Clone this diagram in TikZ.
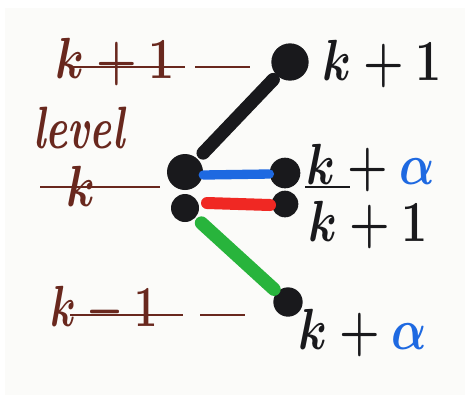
\documentclass[tikz,border=0pt]{standalone}
\usepackage{tikz}
\usepackage{graphicx}
\definecolor{inkbrown}{RGB}{105,40,30}
\definecolor{inkblack}{RGB}{25,25,28}
\definecolor{inkblue}{RGB}{30,105,225}
\definecolor{inkred}{RGB}{240,40,35}
\definecolor{inkgreen}{RGB}{40,180,60}
\definecolor{paper}{RGB}{251,251,249}
\newcommand{\hand}[1]{\scalebox{1.4}[1.75]{#1}}
\begin{document}
\begin{tikzpicture}[x=0.75pt,y=-0.75pt,
  dot/.style={circle,fill=inkblack,inner sep=0pt,minimum size=#1},
  lvl/.style={text=inkbrown,font=\fontsize{24.88}{26}\selectfont\boldmath,inner sep=0pt,anchor=base west},
  lab/.style={text=inkblack,font=\fontsize{24.88}{26}\selectfont\boldmath,inner sep=0pt,anchor=base west},
  levelline/.style={draw=inkbrown,line width=1.6pt},
  bond/.style={line width=#1,line cap=round}]
\useasboundingbox (0,0) rectangle (470,401);
\fill[white] (0,0) rectangle (470,401);
\fill[paper] (5,8) rectangle (465,395);
% levels (left)
\node[lvl] (lkp) at (55,78) {\hand{$k+1$}};
\node[lvl,font=\fontsize{40}{40}\selectfont\bfseries\itshape] (lev) at (33,148) {\scalebox{0.78}[1.12]{level}};
\node[lvl] (lk) at (66,206) {\hand{$k$}};
\node[lvl] (lkm) at (50,326) {\scalebox{1.25}[1.75]{$k-1$}};
\coordinate (a1) at (70,67); \coordinate (a2) at (185,67);
\coordinate (a3) at (195,67); \coordinate (a4) at (250,67);
\draw[levelline] (a1) -- (a2); \draw[levelline] (a3) -- (a4);
\coordinate (b1) at (40,187); \coordinate (b2) at (160,187);
\draw[levelline] (b1) -- (b2);
\coordinate (c1) at (70,315); \coordinate (c2) at (183,315);
\coordinate (c3) at (200,315); \coordinate (c4) at (245,315);
\draw[levelline] (c1) -- (c2); \draw[levelline] (c3) -- (c4);
% dots
\node[dot=28pt] (top) at (290,62) {};
\node[dot=27pt] (ml) at (185,172) {};
\node[dot=21pt] (ml2) at (185,208) {};
\node[dot=23pt] (mr) at (285,173) {};
\node[dot=20pt] (mr2) at (285,204) {};
\node[dot=22pt] (bot) at (288,302) {};
% bonds
\draw[bond=10pt,inkblack,shorten <=4pt,shorten >=6pt] (top) -- (ml);
\path (ml.east) ++(0,3) coordinate (bs) (mr.west) ++(0,1) coordinate (be);
\draw[bond=7pt,inkblue] (bs) -- (be);
\coordinate (rs) at (207,203); \coordinate (re) at (270,205);
\draw[bond=9pt,inkred] (rs) -- (re);
\draw[bond=10pt,inkgreen,shorten <=6pt,shorten >=3pt] (ml2) -- (bot);
% labels (right)
\node[lab] (rkp) at (322,80) {\hand{$k+1$}};
\node[lab] (rka) at (306,184) {\hand{$k+\textcolor{inkblue}{\alpha}$}};
\coordinate (d1) at (305,187); \coordinate (d2) at (350,187);
\draw[draw=inkblack,line width=1.6pt] (d1) -- (d2);
\node[lab] (rk1) at (308,241) {\hand{$k+1$}};
\node[lab] (bka) at (298,349) {\hand{$k+\textcolor{inkblue}{\alpha}$}};
\end{tikzpicture}
\end{document}
